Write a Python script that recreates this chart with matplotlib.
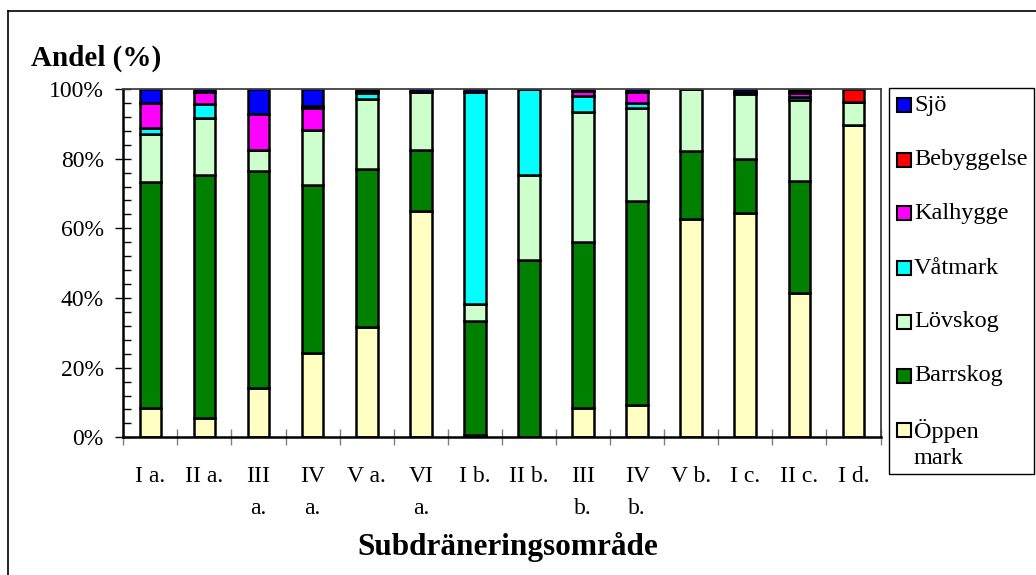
import matplotlib
matplotlib.use("Agg")
import matplotlib.pyplot as plt
import numpy as np
from matplotlib.patches import Rectangle
from matplotlib.lines import Line2D
from matplotlib.ticker import MultipleLocator, FixedLocator, PercentFormatter

plt.rcParams['font.family'] = ['Liberation Serif', 'DejaVu Serif']

# Subdrainage areas
areas = ["I a.", "II a.", "III\na.", "IV\na.", "V a.", "VI\na.", "I b.",
         "II b.", "III\nb.", "IV\nb.", "V b.", "I c.", "II c.", "I d."]

# Land use share (%) per area
oppen_mark = [8.3, 5.5, 14.1, 24.3, 31.6, 64.9, 0.7, 0.2, 8.3, 9.3, 62.7, 64.4, 41.4, 89.6]
barrskog   = [65.0, 69.9, 62.3, 48.0, 45.5, 17.7, 32.8, 50.8, 47.8, 58.5, 19.4, 15.6, 32.3, 0.0]
lovskog    = [13.7, 16.3, 6.2, 15.8, 20.0, 16.5, 4.8, 24.4, 37.4, 26.8, 17.9, 18.7, 23.2, 6.6]
vatmark    = [1.9, 4.1, 0.0, 0.0, 1.7, 0.0, 60.8, 24.6, 4.5, 1.5, 0.0, 0.4, 0.7, 0.0]
kalhygge   = [7.0, 3.3, 10.1, 6.5, 0.6, 0.0, 0.0, 0.0, 1.4, 3.1, 0.0, 0.0, 1.2, 0.0]
bebyggelse = [0.0, 0.0, 0.0, 0.4, 0.0, 0.0, 0.0, 0.0, 0.0, 0.0, 0.0, 0.0, 0.7, 3.8]
sjo        = [4.1, 0.9, 7.3, 5.0, 0.6, 0.9, 0.9, 0.0, 0.6, 0.8, 0.0, 0.9, 0.5, 0.0]

series = [oppen_mark, barrskog, lovskog, vatmark, kalhygge, bebyggelse, sjo]
series_names = ["Öppen\nmark", "Barrskog", "Lövskog", "Våtmark", "Kalhygge", "Bebyggelse", "Sjö"]
series_colors = ["#FFFFC4", "#008000", "#CCFFCC", "#00FFFF", "#FF00FF", "#FF0000", "#0000FF"]

W, H = 1036, 575
fig = plt.figure(figsize=(W / 100, H / 100), dpi=100)


def fx(px):
    return px / W


def fy(py):
    return 1 - py / H


ax = fig.add_axes([fx(123.3), fy(437.3), fx(880.5) - fx(123.3), fy(89) - fy(437.3)])

x = np.arange(len(areas))
bottom = np.zeros(len(areas))
for vals, name, color in zip(series, series_names, series_colors):
    ax.bar(x, vals, width=0.4, bottom=bottom, color=color,
           edgecolor="black", linewidth=1.8, label=name, zorder=2)
    bottom += np.array(vals)

ax.set_xlim(-0.5, len(areas) - 0.5)
ax.set_ylim(0, 100)

ax.yaxis.set_major_locator(MultipleLocator(20))
ax.yaxis.set_minor_locator(MultipleLocator(4))
ax.yaxis.set_major_formatter(PercentFormatter(xmax=100, decimals=0))
ax.tick_params(axis="y", which="major", direction="inout", length=11, width=1,
               labelsize=17, pad=8.5)
ax.tick_params(axis="y", which="minor", direction="in", length=5.5, width=1)

ax.set_xticks(x)
ax.set_xticklabels(areas, linespacing=1.65)
ax.xaxis.set_minor_locator(FixedLocator(np.arange(-0.5, len(areas), 1.0)))
ax.tick_params(axis="x", which="major", length=0, labelsize=17, pad=21)
ax.tick_params(axis="x", which="minor", direction="inout", length=11, width=1,
               color="#808080")

for side in ("left", "bottom"):
    ax.spines[side].set_linewidth(1.8)
    ax.spines[side].set_color("black")
for side in ("top", "right"):
    ax.spines[side].set_linewidth(1.3)
    ax.spines[side].set_color("#404040")

# axis titles
fig.text(fx(31), fy(66), "Andel (%)", fontsize=21, fontweight="bold", va="baseline")
fig.text(fx(508), fy(547), "Subdräneringsområde", fontsize=22.5, fontweight="bold",
         ha="center", va="center")

# chart frame (left and top edges)
fig.add_artist(Line2D([fx(7.5), fx(7.5)], [0, fy(11)], color="black", lw=1.2,
                      transform=fig.transFigure))
fig.add_artist(Line2D([fx(7.5), 1], [fy(11), fy(11)], color="black", lw=1.2,
                      transform=fig.transFigure))

# legend box
fig.add_artist(Rectangle((fx(889), fy(474)), fx(1034) - fx(889), fy(88) - fy(474),
                         transform=fig.transFigure, fill=False, edgecolor="black", lw=1))
legend_y = [105, 160, 213, 268, 322, 376, 430]
for yc, name, color in zip(legend_y, series_names[::-1], series_colors[::-1]):
    fig.add_artist(Rectangle((fx(897), fy(yc + 7)), fx(911) - fx(897), fy(yc - 7) - fy(yc + 7),
                             transform=fig.transFigure, facecolor=color,
                             edgecolor="black", lw=1.5))
    if "\n" in name:
        fig.text(fx(914), fy(yc - 11), name, fontsize=17.5, va="top", ha="left",
                 linespacing=1.3)
    else:
        fig.text(fx(914), fy(yc), name, fontsize=17.5, va="center", ha="left")

fig.savefig("out.png", dpi=100)
